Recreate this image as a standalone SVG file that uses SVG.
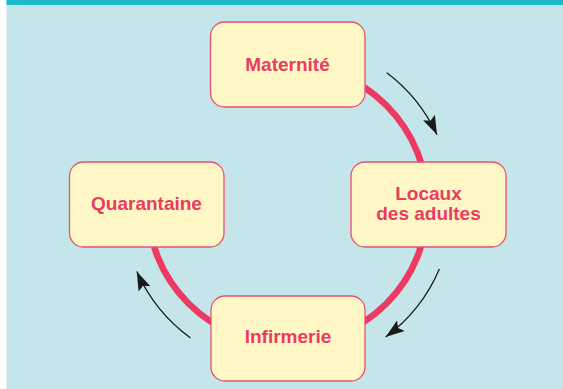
<svg xmlns="http://www.w3.org/2000/svg" width="563" height="389" viewBox="0 0 563 389">
<style>
.box{fill:#fff8c6;stroke:#ec4f72;stroke-width:1.3}
.lbl{font-family:"Liberation Sans",Arial,sans-serif;font-weight:bold;font-size:19px;fill:#ec3a62;text-anchor:middle}
.arr{fill:none;stroke:#1a1a1a;stroke-width:1.3;marker-end:url(#ah)}
</style>
<defs>
<marker id="ah" markerWidth="20" markerHeight="14" viewBox="0 0 20 14" refX="19" refY="7" orient="auto" markerUnits="userSpaceOnUse">
<path d="M0,0.5 L19,7 L0,13.5 L3.5,7 Z" fill="#1a1a1a"/>
</marker>
</defs>
<rect x="0" y="0" width="563" height="389" fill="#ffffff"/>
<rect x="6.5" y="0" width="556.5" height="389" fill="#c4e6ea"/>
<rect x="6.5" y="0" width="556.5" height="5" fill="#1eb9c8"/>
<g id="connectors">
<path d="M287.5,64.5 A140,140 0 1 1 147.5,204.5" fill="none" stroke="#ec3a62" stroke-width="6.5"/>
<path class="arr" d="M386.8,72.7 A165,165 0 0 1 437,134.8"/>
<path class="arr" d="M439.4,269 A165,165 0 0 1 385.6,337.1"/>
<path class="arr" d="M190.5,338 A165,165 0 0 1 136.8,271.6"/>
</g>
<g id="maternite">
<rect class="box" x="210.5" y="22" width="154.5" height="85" rx="14"/>
<text class="lbl" x="287.5" y="70.5">Maternité</text>
</g>
<g id="locaux">
<rect class="box" x="351" y="162" width="155" height="85" rx="14"/>
<text class="lbl" x="428.5" y="200">Locaux</text>
<text class="lbl" x="428.5" y="219.5">des adultes</text>
</g>
<g id="quarantaine">
<rect class="box" x="69.5" y="162" width="154.5" height="85" rx="14"/>
<text class="lbl" x="146.5" y="210">Quarantaine</text>
</g>
<g id="infirmerie">
<rect class="box" x="211" y="296" width="154" height="85" rx="14"/>
<text class="lbl" x="288" y="343">Infirmerie</text>
</g>
</svg>
